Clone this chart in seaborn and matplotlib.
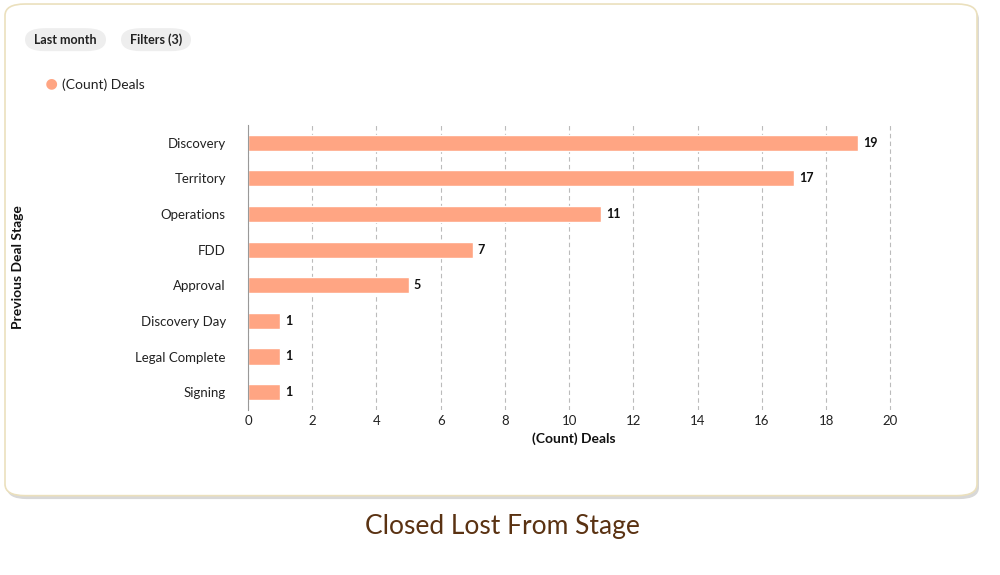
import matplotlib
matplotlib.use("Agg")
import matplotlib.pyplot as plt
from matplotlib.patches import FancyBboxPatch
import seaborn as sns
import pandas as pd

stages = ["Discovery", "Territory", "Operations", "FDD", "Approval",
          "Discovery Day", "Legal Complete", "Signing"]
deals = [19, 17, 11, 7, 5, 1, 1, 1]
ticks = list(range(0, 21, 2))

sns.set_style("white")
plt.rcParams['font.family'] = ['Lato', 'DejaVu Sans']

df = pd.DataFrame({"stage": stages, "deals": deals})

fig = plt.figure(figsize=(10, 5.75), dpi=100)
# card background
card = FancyBboxPatch((0.005, 0.138), 0.972, 0.855, boxstyle="round,pad=0,rounding_size=0.02",
                      transform=fig.transFigure, facecolor="white", edgecolor="#ebe0bd",
                      linewidth=1.2, zorder=-2)
shadow = FancyBboxPatch((0.007, 0.132), 0.972, 0.855, boxstyle="round,pad=0,rounding_size=0.02",
                        transform=fig.transFigure, facecolor="#d8d8d8", edgecolor="none", zorder=-3)
fig.patches.extend([shadow, card])

ax = fig.add_axes([0.248, 0.287, 0.652, 0.496])
ax.set_zorder(2)
ax.set_facecolor("none")
sns.barplot(data=df, x="deals", y="stage", color="#ffa583", width=0.45, ax=ax, saturation=1)
for i, v in enumerate(deals):
    ax.text(v + 0.15, i, str(v), va="center", ha="left", fontsize=9, fontweight="bold", color="#111")

ax.set_xlim(0, 20.3)
ax.set_xticks(ticks)
ax.xaxis.grid(True, linestyle=(0, (4, 3)), color="#bbbbbb", linewidth=0.8)
ax.set_axisbelow(True)
for s in ["top", "right", "bottom"]:
    ax.spines[s].set_visible(False)
ax.spines["left"].set_color("#999999")
ax.tick_params(axis="both", length=0, labelsize=9.5, colors="#222")
ax.tick_params(axis="y", pad=16)
ax.set_xlabel("(Count) Deals", fontsize=10, fontweight="bold", color="#111")
ax.set_ylabel("Previous Deal Stage", fontsize=10, fontweight="bold", color="#111", labelpad=80)

# filter chips
for x, w, label in [(0.025, 0.081, "Last month"), (0.121, 0.07, "Filters (3)")]:
    fig.patches.append(FancyBboxPatch((x, 0.911), w, 0.04, boxstyle="round,pad=0,rounding_size=0.02",
                                      transform=fig.transFigure, facecolor="#eeeeee", edgecolor="none",
                                      zorder=1))
    fig.text(x + w / 2, 0.931, label, ha="center", va="center", fontsize=9, fontweight="bold", color="#222")

# legend
fig.text(0.051, 0.853, "\u25cf", ha="center", va="center", fontsize=16, color="#ffa583")
fig.text(0.062, 0.853, "(Count) Deals", ha="left", va="center", fontsize=10, color="#222")

fig.text(0.502, 0.085, "Closed Lost From Stage", ha="center", va="center", fontsize=19, color="#5a3212")

fig.savefig("out.png", dpi=100)
